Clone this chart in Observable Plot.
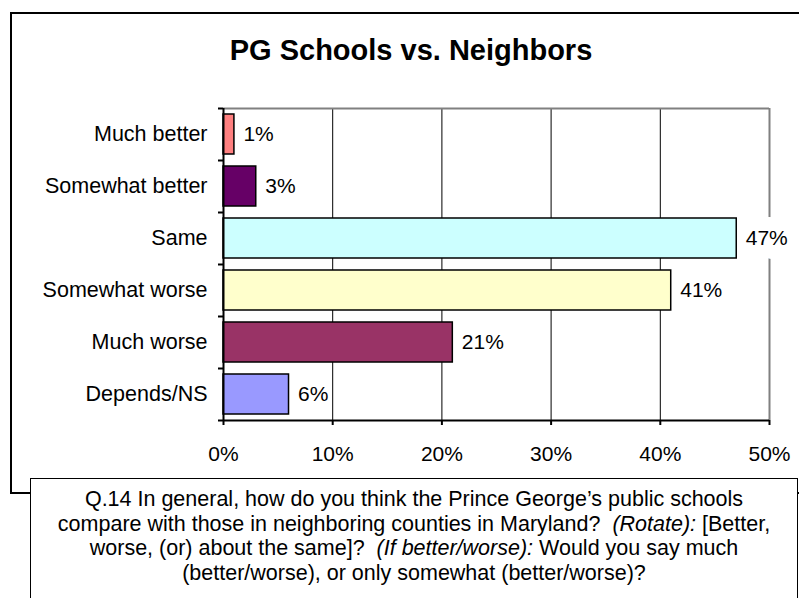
<!DOCTYPE html>
<html><head><meta charset="utf-8">
<script src="https://cdn.jsdelivr.net/npm/d3@7"></script>
<script src="https://cdn.jsdelivr.net/npm/@observablehq/plot@0.6"></script>
<style>
html,body{margin:0;padding:0;background:#fff;width:799px;height:598px;overflow:hidden;}
#wrap{position:relative;width:799px;height:598px;overflow:hidden;font-family:"Liberation Sans",Arial,sans-serif;color:#000;}
#outer{position:absolute;left:10px;top:12px;width:820px;height:482px;border:2px solid #000;box-sizing:border-box;}
#title{position:absolute;left:0;top:34px;width:822px;text-align:center;font-weight:bold;font-size:29px;line-height:33px;}
#chart{position:absolute;left:0;top:80px;}
#caption{position:absolute;left:30px;top:478px;width:768px;height:140px;box-sizing:border-box;border:1.5px solid #000;background:#fff;text-align:center;font-size:21.5px;line-height:24.5px;padding-top:8px;white-space:nowrap;}
</style></head>
<body><div id="wrap">
<div id="outer"></div>
<div id="title">PG Schools vs. Neighbors</div>
<div id="chart"></div>
<div id="caption">Q.14 In general, how do you think the Prince George’s public schools<br>compare with those in neighboring counties in Maryland?&nbsp; <i>(Rotate):</i> [Better,<br>worse, (or) about the same]?&nbsp; <i>(If better/worse):</i> Would you say much<br>(better/worse), or only somewhat (better/worse)?</div>
</div>
<script>
const categories = ["Much better","Somewhat better","Same","Somewhat worse","Much worse","Depends/NS"];
const values = [1, 3, 47, 41, 21, 6];
const colors = ["#FF8080","#660066","#CCFFFF","#FFFFCC","#993366","#9999FF"];
const xTicks = [0, 10, 20, 30, 40, 50];
const gridTicks = [10, 20, 30, 40];
const xMax = 50;

const data = categories.map((c, i) => ({category: c, value: values[i], color: colors[i]}));
const fontFamily = "Liberation Sans, Arial, sans-serif";
// labels that spill over the plot frame get a white backing, as in the original
const spill = data.filter(d => d.value > xMax - 5);

const chart = Plot.plot({
  width: 799,
  height: 398,
  marginLeft: 223,
  marginRight: 30,
  marginTop: 28,
  marginBottom: 58,
  style: {background: "none", fontFamily, color: "#000"},
  x: {domain: [0, xMax]},
  y: {domain: categories, paddingInner: 0.23, paddingOuter: 0.115},
  color: {type: "identity"},
  marks: [
    Plot.ruleX(gridTicks, {stroke: "#000", strokeWidth: 1}),
    Plot.ruleX([xMax], {stroke: "#808080", strokeWidth: 2}),
    Plot.ruleY([categories[0]], {dy: -26, stroke: "#808080", strokeWidth: 2}),
    Plot.text(spill, {x: "value", y: "category", text: d => d.value + "%", textAnchor: "start", dx: 9, fontSize: 21, fill: "white", stroke: "white", strokeWidth: 28}),
    Plot.barX(data, {x: "value", y: "category", fill: "color", stroke: "#000", strokeWidth: 1.5}),
    Plot.ruleX([0], {stroke: "#000", strokeWidth: 2}),
    Plot.ruleY([categories[categories.length - 1]], {dy: 26, stroke: "#000", strokeWidth: 2}),
    Plot.axisY({ticks: categories, tickSize: 5, tickFormat: () => "", dy: -26, stroke: "#000", strokeWidth: 2, label: null}),
    Plot.axisY({ticks: [categories[categories.length - 1]], tickSize: 5, tickFormat: () => "", dy: 26, stroke: "#000", strokeWidth: 2, label: null}),
    Plot.axisY({ticks: categories, tickSize: 0, tickPadding: 16, fontSize: 21.5, fill: "#000", label: null}),
    Plot.axisX({ticks: xTicks, tickFormat: d => d + "%", tickSize: 5, tickPadding: 21, fontSize: 21, fill: "#000", stroke: "#000", strokeWidth: 2, label: null}),
    Plot.text(data, {x: "value", y: "category", text: d => d.value + "%", textAnchor: "start", dx: 9, fontSize: 21, fill: "#000"})
  ]
});
document.getElementById("chart").appendChild(chart);
</script>
</body></html>
